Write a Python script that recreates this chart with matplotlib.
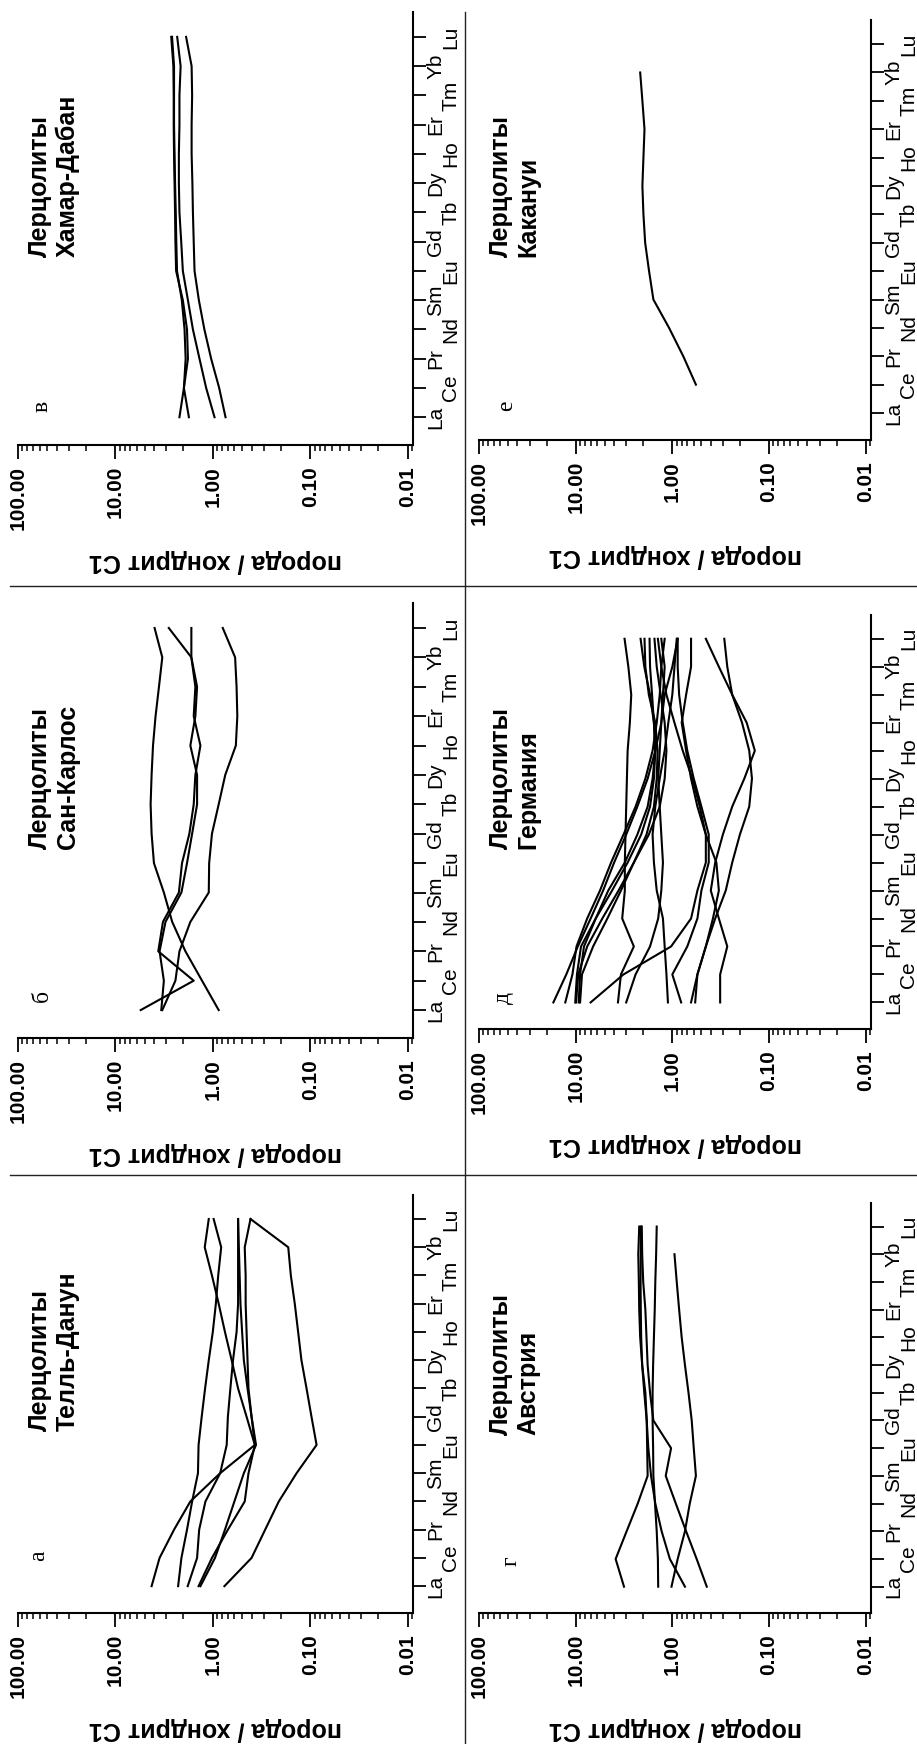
"""
REE spider diagrams (rock / chondrite C1) for six lherzolite localities.
The page is scanned a quarter-turn round, so each panel is drawn that way:
the log value axis runs along the bottom and the element axis up the right.
"""

import numpy as np
import matplotlib.pyplot as plt
from matplotlib.lines import Line2D
from matplotlib.ticker import LogLocator, NullFormatter

plt.rcParams['font.family'] = ['Liberation Sans', 'DejaVu Sans']

nan = np.nan

ELEMENTS = ['La', 'Ce', 'Pr', 'Nd', 'Sm', 'Eu', 'Gd', 'Tb', 'Dy', 'Ho', 'Er', 'Tm', 'Yb', 'Lu']
VALUE_TICKS = [100, 10, 1, 0.1, 0.01]
VALUE_LABELS = ['100.00', '10.00', '1.00', '0.10', '0.01']
YLABEL = 'порода / хондрит C1'

# а - Телль-Данун
tell_danun = [
    [4.25, 3.52, 2.50, 1.70, 0.84, 0.37, 0.45, 0.55, 0.64, 0.75, 0.87, 1.02, 1.21, 1.10],
    [2.27, 2.10, 1.84, 1.63, 1.42, 1.40, 1.30, 1.20, 1.10, 1.00, 0.93, 0.88, 0.82, 0.98],
    [1.81, 1.45, 1.38, 1.19, 0.84, 0.72, 0.70, 0.66, 0.62, 0.57, 0.55, 0.55, 0.55, 0.55],
    [1.40, 1.02, 0.70, 0.47, 0.43, 0.37, 0.40, 0.43, 0.44, 0.45, 0.46, 0.46, 0.47, 0.41],
    [1.34, 0.95, 0.75, 0.60, 0.48, 0.36, 0.40, 0.44, 0.48, 0.50, 0.52, 0.53, 0.54, 0.55],
    [0.76, 0.40, 0.29, 0.21, 0.138, 0.086, 0.097, 0.109, 0.123, 0.133, 0.144, 0.158, 0.168, 0.41],
]

# б - Сан-Карлос
san_carlos = [
    [5.50, 1.57, 3.63, 3.25, 2.23, 2.07, 1.74, 1.57, 1.51, 1.34, 1.57, 1.51, 1.66, 1.66],
    [3.38, 3.18, 3.52, 3.06, 2.10, 1.84, 1.63, 1.45, 1.45, 1.70, 1.51, 1.45, 1.66, 2.83],
    [3.30, 2.42, 2.20, 1.70, 1.10, 1.09, 1.02, 0.87, 0.745, 0.58, 0.56, 0.57, 0.59, 0.79],
    [0.87, 1.29, 1.91, 2.61, 3.18, 4.02, 4.25, 4.35, 4.25, 4.11, 3.87, 3.57, 3.30, 3.96],
]

# в - Хамар-Дабан
hamar_daban = [
    [0.96, 1.17, 1.37, 1.60, 1.80, 2.03, 2.11, 2.20, 2.23, 2.23, 2.20, 2.20, 2.14, 2.32],
    [0.74, 0.86, 1.04, 1.22, 1.39, 1.54, 1.57, 1.60, 1.62, 1.65, 1.65, 1.63, 1.65, 1.88],
    [2.20, 1.98, 1.80, 1.84, 2.03, 2.38, 2.42, 2.44, 2.47, 2.50, 2.52, 2.52, 2.54, 2.67],
    [1.76, 1.98, 1.90, 1.95, 2.08, 2.33, 2.37, 2.40, 2.44, 2.47, 2.50, 2.50, 2.50, 2.62],
]

# г - Австрия
austria = [
    [3.16, 3.86, 2.97, 2.28, 1.80, 1.82, 1.84, 1.90, 2.05, 2.15, 2.20, 2.22, 2.25, 2.20],
    [1.40, 1.41, 1.45, 1.51, 1.57, 1.58, 1.60, 1.60, 1.58, 1.55, 1.52, 1.50, 1.47, 1.45],
    [1.02, 0.88, 0.74, 0.66, 0.57, 0.60, 0.63, 0.68, 0.74, 0.80, 0.85, 0.90, 0.95, nan],
    [0.74, 1.06, 1.29, 1.50, 1.66, 1.77, 1.84, 1.95, 2.05, 2.10, 2.12, 2.13, 2.12, 2.11],
    [0.44, 0.56, 0.72, 0.92, 1.17, 1.03, 1.57, 1.70, 1.80, 1.85, 1.90, 2.00, 2.05, 2.07],
]

# д - Германия
germany = [
    [17.0, 12.5, 9.5, 7.0, 5.2, 4.0, 3.0, 2.3, 1.8, 1.5, 1.3, 1.2, 1.0, 0.88],
    [12.8, 10.8, 9.8, 7.6, 5.6, 4.3, 3.2, 2.4, 1.9, 1.6, 1.45, 1.35, 1.3, 1.2],
    [10.1, 9.7, 8.8, 6.2, 4.2, 2.9, 2.1, 1.7, 1.55, 1.5, 1.55, 1.7, 1.95, 2.13],
    [9.9, 9.4, 7.6, 5.3, 3.6, 2.5, 1.85, 1.55, 1.45, 1.42, 1.5, 1.75, 1.9, 1.94],
    [9.3, 9.0, 8.2, 6.2, 4.6, 3.1, 2.3, 1.8, 1.6, 1.5, 1.55, 1.62, 1.7, 1.72],
    [9.0, 8.6, 6.6, 4.7, 3.4, 2.5, 1.75, 1.35, 1.2, 1.15, 1.2, 1.32, 1.45, 1.53],
    [7.0, 3.2, 1.03, 0.64, 0.55, 0.45, 0.45, 0.52, 0.62, 0.78, 0.95, 1.15, 1.3, 1.41],
    [3.65, 3.4, 2.5, 3.3, 3.1, 3.1, 3.05, 3.0, 2.95, 2.9, 2.75, 2.66, 2.85, 3.12],
    [3.0, 2.4, 1.7, 1.4, 1.3, 1.25, 1.3, 1.35, 1.4, 1.35, 1.3, 1.25, 1.2, 1.3],
    [1.11, 1.15, 1.2, 1.25, 1.45, 1.55, 1.6, 1.5, 1.35, 1.2, 1.1, 1.0, 0.95, 0.9],
    [0.81, 1.0, 0.7, 0.55, 0.5, 0.42, 0.42, 0.5, 0.6, 0.7, 0.78, 0.85, 0.88, 0.88],
    [0.58, 0.55, 0.45, 0.38, 0.33, 0.35, 0.45, 0.55, 0.64, 0.72, 0.8, 0.72, 0.64, 0.64],
    [0.32, 0.32, 0.27, 0.33, 0.40, 0.36, 0.30, 0.24, 0.18, 0.14, 0.17, 0.24, 0.33, 0.45],
    [0.64, 0.55, 0.45, 0.36, 0.28, 0.24, 0.20, 0.16, 0.15, 0.16, 0.19, 0.24, 0.27, 0.29],
]

# kakanui has only Ce..Yb
kakanui = [
    [nan, 0.57, 0.77, 1.08, 1.57, 1.74, 1.91, 1.99, 2.04, 1.99, 1.94, 2.04, 2.15, nan],
]

W, H = 917, 1744

# letter, place, data, axes box in px (left, top, right, bottom), letter pos (axes frac)
PANELS = [
    ('в', 'Хамар-Дабан', hamar_daban, (18, 12, 413, 445), (0.035, 0.076)),
    ('е', 'Какануи', kakanui, (479, 20, 871, 440), (0.043, 0.07)),
    ('б', 'Сан-Карлос', san_carlos, (18, 603, 413, 1038), (0.035, 0.083)),
    ('д', 'Германия', germany, (479, 615, 871, 1029), (0.036, 0.06)),
    ('а', 'Телль-Данун', tell_danun, (18, 1195, 413, 1613), (0.025, 0.124)),
    ('г', 'Австрия', austria, (479, 1203, 871, 1613), (0.054, 0.115)),
]


def draw_panel(fig, box, series, letter, place, letter_xy):
    left, top, right, bottom = box
    ax = fig.add_axes([left / W, 1 - bottom / H, (right - left) / W, (bottom - top) / H])
    pos = np.arange(len(ELEMENTS))

    for s in series:
        s = np.asarray(s, dtype=float)
        ok = ~np.isnan(s)
        ax.plot(s[ok], pos[ok], color='black', lw=1.5)

    ax.set_xscale('log')
    ax.set_xlim(100, 0.0088)
    ax.set_ylim(-0.95, 13.85)

    ax.spines[['top', 'left']].set_visible(False)
    ax.spines[['bottom', 'right']].set_linewidth(1.5)

    # value axis (bottom)
    ax.set_xticks(VALUE_TICKS, VALUE_LABELS, rotation=90, fontsize=15, fontweight='bold')
    ax.xaxis.set_minor_locator(LogLocator(base=10, subs=np.arange(2, 10), numticks=20))
    ax.xaxis.set_minor_formatter(NullFormatter())
    ax.tick_params(axis='x', which='major', direction='out', length=10, width=1.3, pad=5)
    ax.tick_params(axis='x', which='minor', direction='out', length=4.5, width=1.1)
    ax.set_xlabel(YLABEL, rotation=180, fontsize=18, fontweight='bold', labelpad=14)

    # element axis (right), labels staggered
    ax.yaxis.tick_right()
    ax.set_yticks(pos, ELEMENTS, rotation=90, fontsize=15)
    ax.tick_params(axis='y', which='major', direction='out', length=9.5, width=1.3, pad=0)
    ax.tick_params(axis='y', which='minor', left=False, right=False)
    for lbl in ax.get_yticklabels():
        lbl.set_va('center')
    for i, t in enumerate(ax.yaxis.get_major_ticks()):
        if i % 2:
            t.set_pad(11)

    ax.text(0.025, 0.435, 'Лерцолиты\n' + place, transform=ax.transAxes,
            rotation=90, ha='left', va='bottom', multialignment='left',
            fontsize=18, fontweight='bold', linespacing=1.2)
    ax.text(letter_xy[0], letter_xy[1], letter, transform=ax.transAxes,
            rotation=90, ha='left', va='bottom', fontsize=17,
            family=['Liberation Serif', 'DejaVu Serif'])
    return ax


fig = plt.figure(figsize=(W / 100, H / 100), dpi=100)

for letter, place, data, box, letter_xy in PANELS:
    draw_panel(fig, box, data, letter, place, letter_xy)

# table rules between the panels
for y in (586, 1175):
    fig.add_artist(Line2D([10 / W, 1], [1 - y / H, 1 - y / H], transform=fig.transFigure,
                          color='#222222', lw=1.0))
fig.add_artist(Line2D([465 / W, 465 / W], [1 - 12 / H, 0], transform=fig.transFigure,
                      color='#222222', lw=1.0))

fig.savefig('out.png', dpi=100)
